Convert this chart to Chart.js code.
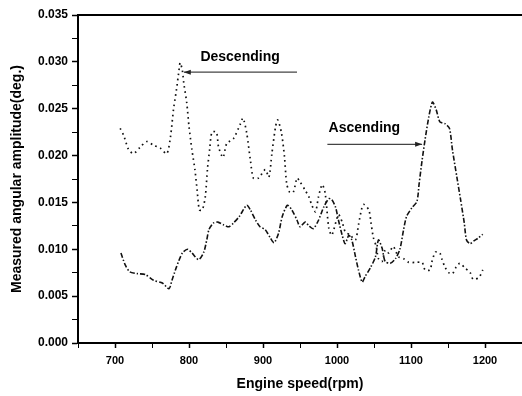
<!DOCTYPE html>
<html>
<head>
<meta charset="utf-8">
<script src="https://cdn.jsdelivr.net/npm/chart.js@4/dist/chart.umd.min.js"></script>
<style>
  html, body { margin: 0; padding: 0; background: #fff; }
  #wrap { width: 522px; height: 396px; position: relative; }
</style>
</head>
<body>
<div id="wrap"><canvas id="chart" width="522" height="396"></canvas></div>
<script>
// rpm / amplitude
const descendingRpm = [707, 712, 718, 725, 734, 743, 752, 761, 770, 775, 779, 783, 786, 788, 791, 793, 797, 800, 804, 808,
  811, 814, 818, 822, 825, 828, 831, 837, 840, 846, 851, 860, 869, 873, 878, 883, 887, 894, 903, 908,
  912, 917, 920, 925, 929, 932, 936, 941, 946, 950, 957, 962, 966, 971, 975, 980, 984, 989, 993, 1002,
  1007, 1011, 1018, 1025, 1029, 1033, 1036, 1043, 1046, 1049, 1053, 1056, 1061, 1065, 1070, 1076, 1083, 1090, 1097, 1106,
  1115, 1119, 1126, 1128, 1133, 1139, 1142, 1146, 1151, 1156, 1161, 1166, 1173, 1180, 1184, 1192, 1197];
const descendingAmp = [0.0229, 0.0221, 0.0207, 0.0202, 0.0209, 0.0215, 0.0211, 0.0208, 0.0202, 0.0220, 0.0249, 0.0270, 0.0288, 0.0299, 0.0291, 0.0277, 0.0256, 0.0231, 0.0206, 0.0185,
  0.0163, 0.0142, 0.0142, 0.0156, 0.0186, 0.0207, 0.0225, 0.0225, 0.0209, 0.0198, 0.0213, 0.0218, 0.0233, 0.0240, 0.0224, 0.0195, 0.0176, 0.0176, 0.0185, 0.0177,
  0.0202, 0.0231, 0.0238, 0.0224, 0.0199, 0.0170, 0.0161, 0.0161, 0.0176, 0.0172, 0.0163, 0.0156, 0.0147, 0.0140, 0.0156, 0.0169, 0.0160, 0.0122, 0.0115, 0.0137,
  0.0129, 0.0119, 0.0115, 0.0110, 0.0126, 0.0142, 0.0148, 0.0142, 0.0128, 0.0113, 0.0103, 0.0090, 0.0087, 0.0099, 0.0096, 0.0103, 0.0092, 0.0090, 0.0086, 0.0086,
  0.0086, 0.0078, 0.0078, 0.0086, 0.0097, 0.0096, 0.0089, 0.0081, 0.0075, 0.0074, 0.0081, 0.0085, 0.0080, 0.0075, 0.0068, 0.0070, 0.0078];

const ascendingRpm = [708, 714, 720, 730, 741, 752, 764, 773, 777, 783, 791, 798, 804, 813, 820, 824, 827, 833, 839, 847,
  854, 860, 868, 878, 883, 890, 896, 903, 910, 915, 921, 926, 933, 939, 946, 950, 957, 962, 968, 975,
  982, 989, 993, 998, 1002, 1007, 1011, 1016, 1020, 1025, 1029, 1034, 1038, 1045, 1052, 1056, 1061, 1065, 1072, 1079,
  1085, 1090, 1094, 1101, 1108, 1111, 1115, 1119, 1124, 1129, 1134, 1139, 1146, 1152, 1156, 1162, 1167, 1172, 1175, 1180,
  1185, 1191, 1197];
const ascendingAmp = [0.0096, 0.0083, 0.0076, 0.0074, 0.0073, 0.0067, 0.0064, 0.0058, 0.0067, 0.0081, 0.0096, 0.0100, 0.0096, 0.0089, 0.0097, 0.0110, 0.0121, 0.0128, 0.0129, 0.0126,
  0.0124, 0.0128, 0.0135, 0.0147, 0.0142, 0.0131, 0.0124, 0.0121, 0.0112, 0.0107, 0.0117, 0.0135, 0.0147, 0.0142, 0.0131, 0.0124, 0.0129, 0.0125, 0.0122, 0.0131,
  0.0145, 0.0154, 0.0153, 0.0145, 0.0131, 0.0115, 0.0106, 0.0115, 0.0110, 0.0092, 0.0078, 0.0065, 0.0071, 0.0080, 0.0092, 0.0110, 0.0101, 0.0087, 0.0085, 0.0090,
  0.0100, 0.0121, 0.0135, 0.0144, 0.0151, 0.0170, 0.0195, 0.0217, 0.0241, 0.0257, 0.0249, 0.0236, 0.0234, 0.0229, 0.0206, 0.0177, 0.0153, 0.0128, 0.0110, 0.0106,
  0.0109, 0.0112, 0.0116];

const xTickLabels = [700, 800, 900, 1000, 1100, 1200];
const yTickLabels = [0, 0.005, 0.010, 0.015, 0.020, 0.025, 0.030, 0.035];

// text labels with arrows, in data units
const noteText = ["Descending", "Ascending"];
const noteTextAt = [[869, 0.0305], [1037, 0.0229]];
const noteArrowFrom = [[946, 0.0289], [987, 0.0212]];
const noteArrowTo = [[793, 0.0289], [1115, 0.0212]];

const toPoints = (xs, ys) => xs.map((x, i) => ({ x: x, y: ys[i] }));
const isYLabel = (v) => yTickLabels.some((t) => Math.abs(t - v) < 1e-7);

const fontFamily = "'Liberation Sans', Arial, sans-serif";

const notesPlugin = {
    id: "notes",
    afterDatasetsDraw(chart) {
        const ctx = chart.ctx;
        const xs = chart.scales.x;
        const ys = chart.scales.y;
        const area = chart.chartArea;
        ctx.save();
        // top frame line
        ctx.strokeStyle = "#000";
        ctx.lineWidth = 2;
        ctx.beginPath();
        ctx.moveTo(area.left, area.top);
        ctx.lineTo(area.right, area.top);
        ctx.stroke();

        noteText.forEach((txt, i) => {
            ctx.fillStyle = "#000";
            ctx.font = "bold 14px " + fontFamily;
            ctx.textAlign = "center";
            ctx.textBaseline = "middle";
            ctx.fillText(txt, xs.getPixelForValue(noteTextAt[i][0]), ys.getPixelForValue(noteTextAt[i][1]));

            const x1 = xs.getPixelForValue(noteArrowFrom[i][0]);
            const y1 = ys.getPixelForValue(noteArrowFrom[i][1]);
            const x2 = xs.getPixelForValue(noteArrowTo[i][0]);
            const y2 = ys.getPixelForValue(noteArrowTo[i][1]);
            ctx.strokeStyle = "#444";
            ctx.lineWidth = 1.2;
            ctx.beginPath();
            ctx.moveTo(x1, y1);
            ctx.lineTo(x2, y2);
            ctx.stroke();
            const dir = Math.sign(x2 - x1);
            ctx.fillStyle = "#222";
            ctx.beginPath();
            ctx.moveTo(x2, y2);
            ctx.lineTo(x2 - dir * 7, y2 - 2.5);
            ctx.lineTo(x2 - dir * 7, y2 + 2.5);
            ctx.closePath();
            ctx.fill();
        });
        ctx.restore();
    }
};

new Chart(document.getElementById("chart"), {
    type: "line",
    data: {
        datasets: [
            {
                label: "Descending",
                data: toPoints(descendingRpm, descendingAmp),
                borderColor: "#111",
                borderWidth: 1.7,
                borderDash: [1.6, 3.6],
                pointRadius: 0,
                tension: 0.25,
                fill: false,
            },
            {
                label: "Ascending",
                data: toPoints(ascendingRpm, ascendingAmp),
                borderColor: "#111",
                borderWidth: 1.6,
                borderDash: [5, 2, 1.5, 2],
                pointRadius: 0,
                tension: 0.25,
                fill: false,
            },
        ],
    },
    options: {
        responsive: false,
        animation: false,
        layout: { padding: { left: 0, right: 0, top: 15, bottom: 0 } },
        plugins: { legend: { display: false }, tooltip: { enabled: false } },
        scales: {
            x: {
                type: "linear",
                min: 650,
                max: 1250,
                afterFit: (scale) => {
                    scale.height = 53;
                    scale.paddingLeft = 0;
                    scale.paddingRight = 0;
                },
                border: { display: true, color: "#000", width: 2 },
                grid: {
                    drawOnChartArea: false,
                    tickLength: 5,
                    tickColor: "#000",
                    tickWidth: (c) => (xTickLabels.includes(c.tick.value) ? 1.5 : 1),
                },
                ticks: {
                    stepSize: 50,
                    autoSkip: false,
                    maxRotation: 0,
                    color: "#000",
                    padding: 6,
                    font: { family: fontFamily, size: 11, weight: "bold" },
                    callback: (v) => (xTickLabels.includes(v) ? String(v) : ""),
                },
                title: {
                    display: true,
                    text: "Engine speed(rpm)",
                    color: "#000",
                    padding: { top: 0, bottom: 3 },
                    font: { family: fontFamily, size: 14, weight: "bold" },
                },
            },
            y: {
                min: 0,
                max: 0.035,
                afterFit: (scale) => { scale.width = 78; },
                border: { display: true, color: "#000", width: 2 },
                grid: {
                    drawOnChartArea: false,
                    tickLength: 6,
                    tickColor: "#000",
                    tickWidth: (c) => (isYLabel(c.tick.value) ? 1.5 : 1),
                },
                ticks: {
                    stepSize: 0.0025,
                    autoSkip: false,
                    color: "#000",
                    padding: 4,
                    font: { family: fontFamily, size: 12, weight: "bold" },
                    callback: (v) => (isYLabel(v) ? v.toFixed(3) : ""),
                },
                title: {
                    display: true,
                    text: "Measured angular amplitude(deg.)",
                    color: "#000",
                    padding: { top: 9, bottom: 0 },
                    font: { family: fontFamily, size: 14, weight: "bold" },
                },
            },
        },
    },
    plugins: [notesPlugin],
});
</script>
</body>
</html>
